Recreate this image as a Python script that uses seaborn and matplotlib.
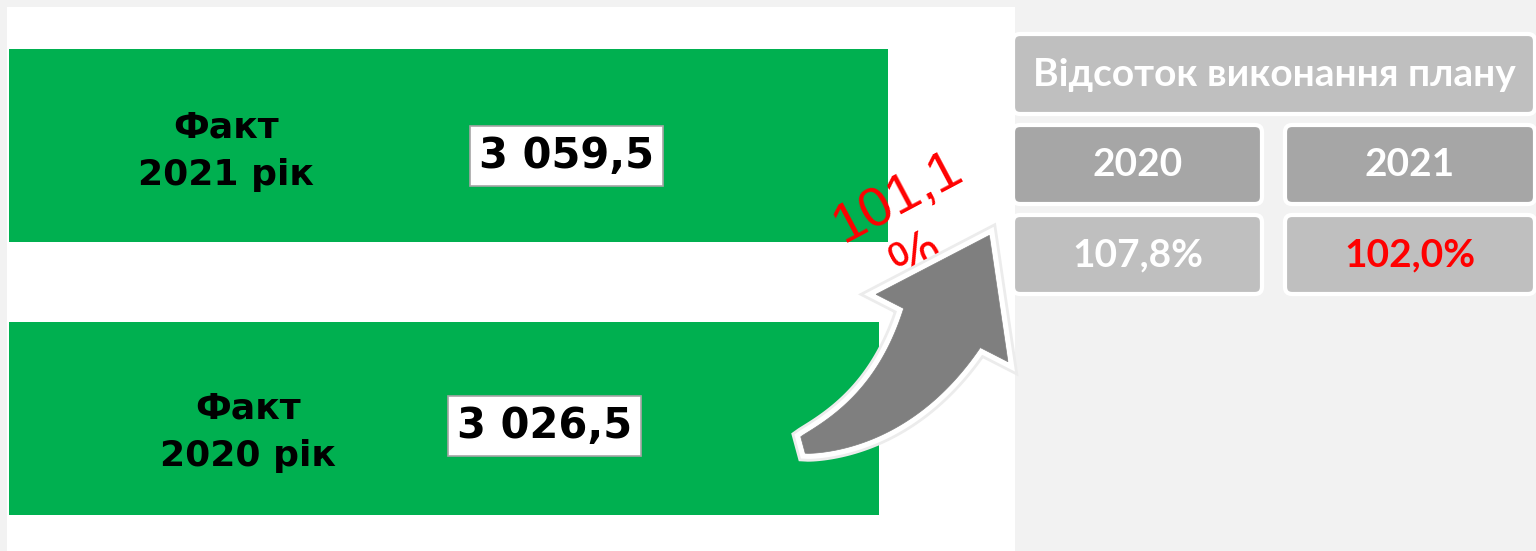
import numpy as np
import pandas as pd
import seaborn as sns
import matplotlib.pyplot as plt
import matplotlib.patheffects as pe
from matplotlib.patches import FancyBboxPatch


#
# data
#

years       = ["2021", "2020"]
fact_values = [3059.5, 3026.5]
growth_pct  = 101.1

plan_title  = "Відсоток виконання плану"
plan_years  = ["2020", "2021"]
plan_pct    = [107.8, 102.0]
plan_colors = ["white", "#ff0000"]


#
# style
#

green      = "#00b050"
page_bg    = "#f2f2f2"
cell_light = "#bfbfbf"
cell_dark  = "#a6a6a6"
arrow_grey = "#7f7f7f"

sns.set_theme(style="white")
plt.rcParams["font.family"] = ["DejaVu Sans"]
table_font = ["Lato", "Open Sans", "DejaVu Sans"]
red_font = ["Liberation Sans", "DejaVu Sans"]


def ua_number(v, fmt="{:,.1f}"):
    # 3059.5 -> "3 059,5"
    return fmt.format(v).replace(",", " ").replace(".", ",")


df = pd.DataFrame({
    "label": [f"Факт\n{y} рік" for y in years],
    "value": fact_values,
})

W, H = 1536, 551
fig = plt.figure(figsize=(W / 100, H / 100), dpi=100, facecolor=page_bg)

# main panel with the two bars
ax = fig.add_axes([7 / W, 0, 1008 / W, 544 / H])
ax.set_facecolor("white")
sns.barplot(data=df, x="value", y="label", orient="h", color=green,
            saturation=1, width=0.707, linewidth=0, ax=ax)
ax.set_xlim(-7, 3500)
ax.set_ylim(1.485, -0.507)
ax.set(xticks=[], yticks=[], xlabel="", ylabel="")
sns.despine(ax=ax, left=True, bottom=True)

trans = ax.get_yaxis_transform()
label_x = [0.217, 0.239]
label_dy = [0.02, 0.05]
box_x = [0.555, 0.533]
box_dy = [0.038, 0.028]
for i, row in df.iterrows():
    ax.text(label_x[i], i + label_dy[i], row["label"], transform=trans,
            ha="center", va="center", fontsize=26, fontweight="bold",
            color="black", linespacing=1.5)
    ax.text(box_x[i], i + box_dy[i], ua_number(row["value"]), transform=trans,
            ha="center", va="center", fontsize=30, fontweight="bold",
            color="black",
            bbox=dict(boxstyle="square,pad=0.22", fc="white",
                      ec="#a6a6a6", lw=1.2))

# overlay in pixel coordinates for arrow + table
ov = fig.add_axes([0, 0, 1, 1])
ov.set_xlim(0, W)
ov.set_ylim(H, 0)
ov.set_axis_off()

# growth 2021 vs 2020, the "%" line sits half under the arrow
ov.text(898, 198, ua_number(growth_pct), rotation=28, rotation_mode="anchor",
        ha="center", va="center", fontsize=40, color="#ff0000",
        family=red_font, zorder=3)
ov.text(917, 258, "%", rotation=28, rotation_mode="anchor",
        ha="center", va="center", fontsize=40, color="#ff0000",
        family=red_font, zorder=3)

# curved growth arrow: quadratic bezier body that widens towards the head
p0 = np.array([803.0, 445.0])
c = np.array([895.0, 420.0])
p1 = np.array([942.0, 328.0])
t = np.linspace(0, 1, 80)[:, None]
body = (1 - t) ** 2 * p0 + 2 * (1 - t) * t * c + t ** 2 * p1
deriv = 2 * (1 - t) * (c - p0) + 2 * t * (p1 - c)
deriv /= np.linalg.norm(deriv, axis=1, keepdims=True)
normal = np.column_stack([-deriv[:, 1], deriv[:, 0]])
half_w = (17 + 69 * t ** 0.85) / 2
left = body + normal * half_w
right = body - normal * half_w
d1 = deriv[-1]
n1 = normal[-1]
tip = p1 + d1 * 104
head = [p1 + n1 * 74, tip, p1 - n1 * 74]
poly = np.vstack([left, head, right[::-1]])
ov.fill(poly[:, 0], poly[:, 1], fc=arrow_grey, ec=arrow_grey, lw=0.5,
        zorder=4,
        path_effects=[pe.Stroke(linewidth=12, foreground="#ececec"),
                      pe.Stroke(linewidth=8, foreground="white"),
                      pe.Normal()])


def cell(x0, y0, x1, y1, fc):
    ov.add_patch(FancyBboxPatch((x0, y0), x1 - x0, y1 - y0,
                                boxstyle="round,pad=0,rounding_size=7",
                                fc=fc, ec="white", lw=3))


# plan table
cell(1013, 34, 1535, 114, cell_light)
ov.text(1274, 74, plan_title, ha="center", va="center", fontsize=28,
        fontweight="bold", color="white", family=table_font)

col_x = [(1013, 1262), (1285, 1535)]
for (x0, x1), yr, pct, col in zip(col_x, plan_years, plan_pct, plan_colors):
    cell(x0, 125, x1, 204, cell_dark)
    cell(x0, 215, x1, 294, cell_light)
    xc = (x0 + x1) / 2
    ov.text(xc, 164, yr, ha="center", va="center", fontsize=28,
            fontweight="bold", color="white", family=table_font)
    ov.text(xc, 255, ua_number(pct) + "%", ha="center", va="center",
            fontsize=28, fontweight="bold", color=col, family=table_font)

fig.savefig("out.png", dpi=100, facecolor=page_bg)
